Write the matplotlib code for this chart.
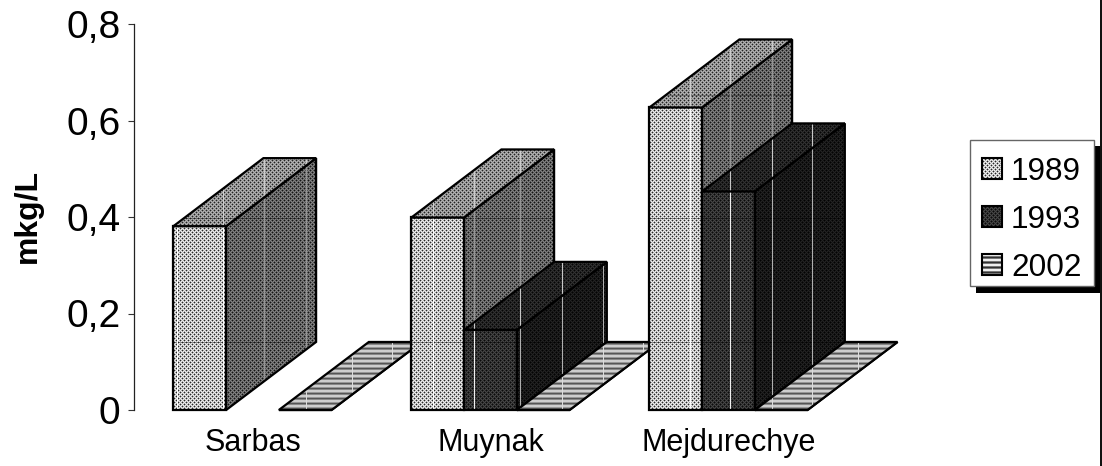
import numpy as np
import matplotlib
matplotlib.use("Agg")
import matplotlib.pyplot as plt
from matplotlib.patches import Polygon, Rectangle

plt.rcParams['font.family'] = ['Liberation Sans', 'DejaVu Sans']

categorias = ['Sarbas', 'Muynak', 'Mejdurechye']
años = ['1989', '1993', '2002']
v1989 = [0.381, 0.399, 0.627]
v1993 = [np.nan, 0.166, 0.453]
v2002 = [0.0, 0.0, 0.0]
series = [v1989, v1993, v2002]

ticks_y = [0, 0.2, 0.4, 0.6, 0.8]
ticks_y_txt = ['0', '0,2', '0,4', '0,6', '0,8']

W, H = 1102, 466
ancho = 0.2215
fondo_x = 0.378
fondo_y = 0.141

# costuras de la trama de relleno, en pixeles de la figura
costuras_x = [177, 223, 264, 306, 352, 392, 433, 474, 520, 562, 603, 643, 690, 730, 772, 812, 858]
costuras_y = [95, 218, 342]


def tile_puntos(base, halo, punto):
    t = np.full((4, 4), float(base))
    for f, c in [(0, 0), (2, 2)]:
        t[f, c] = punto
        for df, dc in [(0, 1), (0, -1), (1, 0), (-1, 0)]:
            t[(f + df) % 4, (c + dc) % 4] = halo
    return t


def textura(tile, claro=None, oscuro=0.65):
    # repite el tile en toda la figura
    ny = H // tile.shape[0] + 1
    nx = W // tile.shape[1] + 1
    img = np.tile(tile, (ny, nx))[:H, :W].copy()
    if claro is not None:
        img[costuras_y, :] *= oscuro
        img[:, costuras_x] = np.maximum(img[:, costuras_x], claro)
    return img


rayas = np.array([[205.], [205.], [150.], [85.], [135.]])
rayas_ley = np.array([[240.], [240.], [120.], [50.], [120.]])

# caras de cada serie: frente, arriba, lado
caras = [
    (textura(tile_puntos(238, 170, 40), 252),
     textura(tile_puntos(180, 130, 35), 205),
     textura(tile_puntos(130, 85, 20), 150)),
    (textura(tile_puntos(70, 40, 10), 240),
     textura(tile_puntos(50, 28, 5), 200),
     textura(tile_puntos(35, 18, 3), 175)),
    (textura(rayas, 220),
     textura(rayas, 220),
     textura(rayas, 220)),
]
ley_tex = [textura(tile_puntos(238, 170, 40)),
           textura(tile_puntos(70, 40, 10)),
           textura(rayas_ley)]

fig = plt.figure(figsize=(W / 100, H / 100), dpi=100)
# el eje sigue mas alla de la ultima categoria para que quepa el fondo de las barras
ax = fig.add_axes([133.5 / W, (H - 410) / H, 238 * 3.5 / W, 386 / H])
ax.set_xlim(-0.5, 3.0)
ax.set_ylim(0, 0.8)
ax.patch.set_visible(False)

# extension de la figura completa en unidades de datos
inv = ax.transData.inverted()
(x0_fig, y0_fig), (x1_fig, y1_fig) = inv.transform([(0, 0), (W, H)])
ext = (x0_fig, x1_fig, y0_fig, y1_fig)

z = 2


def cara(puntos, tex):
    global z
    p = Polygon(puntos, closed=True, facecolor='none', edgecolor='black',
                linewidth=1.6, joinstyle='miter', clip_on=False, zorder=z + 0.5)
    ax.add_patch(p)
    im = ax.imshow(tex, extent=ext, cmap='gray', vmin=0, vmax=255, aspect='auto',
                   interpolation='nearest', zorder=z)
    im.set_clip_path(p)
    z += 1


for i in range(len(categorias)):
    for j, valores in enumerate(series):
        v = valores[i]
        if np.isnan(v):
            continue
        x = i - 1.5 * ancho + j * ancho
        frente, arriba, lado = caras[j]
        cara([(x, 0), (x + ancho, 0), (x + ancho, v), (x, v)], frente)
        cara([(x + ancho, 0), (x + ancho + fondo_x, fondo_y),
              (x + ancho + fondo_x, v + fondo_y), (x + ancho, v)], lado)
        cara([(x, v), (x + ancho, v), (x + ancho + fondo_x, v + fondo_y),
              (x + fondo_x, v + fondo_y)], arriba)

ax.set_xlim(-0.5, 3.0)
ax.set_ylim(0, 0.8)

for lado_eje in ['top', 'right', 'bottom']:
    ax.spines[lado_eje].set_visible(False)
ax.spines['left'].set_color('#222222')
ax.spines['left'].set_linewidth(0.9)

ax.set_yticks(ticks_y)
ax.set_yticklabels(ticks_y_txt, fontsize=28, va='center_baseline')
ax.tick_params(axis='y', length=4.5, width=0.8, color='#333333', pad=5)
ax.set_xticks(range(len(categorias)))
ax.set_xticklabels(categorias, fontsize=22)
ax.tick_params(axis='x', length=0, pad=13)

ax.set_ylabel('mkg/L', fontsize=23, fontweight='bold', va='center')
ax.yaxis.set_label_coords(-0.127, 0.503)

# leyenda y borde derecho, en pixeles
ley = fig.add_axes([0, 0, 1, 1], zorder=5)
ley.set_xlim(0, W)
ley.set_ylim(H, 0)
ley.axis('off')
ley.add_patch(Rectangle((976, 146), 124, 147, facecolor='black', edgecolor='none'))
ley.add_patch(Rectangle((970, 140), 124, 146, facecolor='white', edgecolor='#666666', linewidth=1))
ley.add_patch(Rectangle((1100.2, 0), 2, H, facecolor='#111111', edgecolor='none'))

filas_y = [168, 216, 264]
for nombre, tex, yc in zip(años, ley_tex, filas_y):
    r = Rectangle((981.5, yc - 10.5), 20.5, 21, facecolor='none', edgecolor='black',
                  linewidth=1.5, zorder=3)
    ley.add_patch(r)
    im = ley.imshow(tex, extent=(0, W, H, 0), cmap='gray', vmin=0, vmax=255, aspect='auto',
                    interpolation='nearest', zorder=2)
    im.set_clip_path(r)
    ley.text(1011, yc, nombre, fontsize=22.7, va='center_baseline', ha='left', color='black')
ley.set_xlim(0, W)
ley.set_ylim(H, 0)

fig.savefig('out.png', dpi=100)
